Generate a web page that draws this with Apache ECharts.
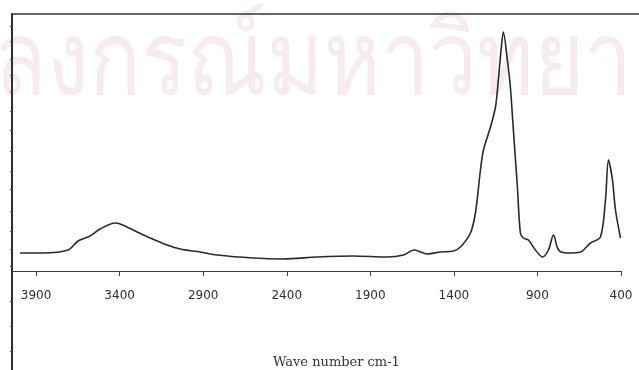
<!DOCTYPE html>
<html>
<head>
<meta charset="utf-8">
<script src="https://cdn.jsdelivr.net/npm/echarts@6/dist/echarts.min.js"></script>
<style>
  html, body { margin: 0; padding: 0; background: #fff; }
  #chart { width: 639px; height: 370px; }
</style>
</head>
<body>
<div id="chart"></div>
<script>
// wave numbers (cm-1), left to right
var waveNumbers = [3996, 3858, 3708, 3649, 3577, 3517, 3427, 3397, 3319, 3217, 3116, 3038, 2918, 2816,
    2601, 2421, 2217, 2002, 1798, 1702, 1637, 1559, 1481, 1403, 1361, 1301, 1271, 1241, 1223,
    1181, 1151, 1134, 1116, 1104, 1080, 1062, 1044, 1020, 1002, 984, 954, 912, 870, 834, 804,
    774, 720, 642, 583, 523, 493, 475, 451, 433, 403];
// absorbance, arbitrary units above the baseline axis
var absorbance = [18, 18, 21, 30, 35, 42, 48, 47, 41, 33, 26, 22, 19, 16,
    13, 12, 14, 15, 14, 16, 21, 17, 19, 20, 24, 38, 58, 101, 121,
    144, 164, 191, 224, 239, 211, 184, 141, 84, 38, 33, 31, 21, 14, 21, 36,
    21, 18, 19, 28, 34, 71, 111, 91, 61, 33];
var tickValues = [3900, 3400, 2900, 2400, 1900, 1400, 900, 400];
var borderTicks = [245, 230, 212, 196, 180, 160, 141, 120, 100, 82, 60, 40, 22, 5];
var lowerBorderTicks = [80, 55, 30];

var chart = echarts.init(document.getElementById('chart'));

var points = waveNumbers.map(function (w, i) { return [w, absorbance[i]]; });

var option = {
    animation: false,
    grid: [
        { left: 12, right: 18, top: 14, bottom: 99, outerBoundsMode: 'none' },
        { left: 12, right: 18, top: 271, bottom: 0, outerBoundsMode: 'none' }
    ],
    xAxis: [
        {
            type: 'value',
            inverse: true,
            min: 400,
            max: 4044,
            splitLine: { show: false },
            axisLine: { lineStyle: { color: '#3a3a3a', width: 1.2 } },
            axisTick: { customValues: tickValues, length: 5, lineStyle: { color: '#444' } },
            axisLabel: {
                customValues: tickValues,
                margin: 19,
                color: '#2e2e2e',
                fontFamily: 'DejaVu Sans',
                fontSize: 12,
                formatter: function (v) { return String(v); }
            }
        },
        { gridIndex: 1, type: 'value', show: false, min: 0, max: 1 }
    ],
    yAxis: [
        {
            type: 'value',
            min: 0,
            max: 257,
            splitLine: { show: false },
            axisLabel: { show: false },
            axisLine: { show: true, lineStyle: { color: '#2e2e2e', width: 2 } },
            axisTick: { customValues: borderTicks, length: 2, lineStyle: { color: '#555' } }
        },
        {
            gridIndex: 1,
            type: 'value',
            inverse: true,
            min: 0,
            max: 99,
            splitLine: { show: false },
            axisLabel: { show: false },
            axisLine: { show: true, onZero: false, lineStyle: { color: '#2e2e2e', width: 2 } },
            axisTick: { customValues: lowerBorderTicks, length: 2, lineStyle: { color: '#555' } }
        }
    ],
    graphic: [
        {
            type: 'text',
            left: -6,
            top: 14,
            scaleY: 1.2,
            z: -10,
            silent: true,
            style: {
                text: 'ลงกรณ์มหาวิทยา',
                fill: '#f7ebf1',
                font: '86px sans-serif'
            }
        },
        {
            type: 'line',
            shape: { x1: 12, y1: 14, x2: 639, y2: 14 },
            style: { stroke: '#333', lineWidth: 1.6 }
        },
        {
            type: 'text',
            left: 273,
            top: 356,
            style: {
                text: 'Wave number cm-1',
                fill: '#333',
                font: '13px "DejaVu Serif"'
            }
        }
    ],
    series: [
        {
            type: 'line',
            data: points,
            smooth: 0.3,
            symbol: 'none',
            lineStyle: { color: '#2a2a2a', width: 1.6 }
        }
    ]
};

chart.setOption(option);
</script>
</body>
</html>
